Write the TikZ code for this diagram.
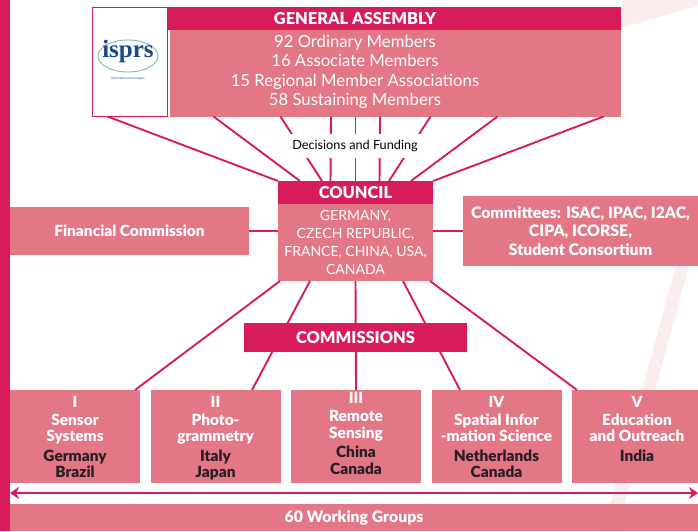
\documentclass[tikz,border=0pt]{standalone}
\usepackage{fontspec}
\setmainfont{Lato}[BoldFont={Lato Black}]
\newfontfamily\logofont{Liberation Serif}
\usetikzlibrary{arrows,arrows.meta,positioning}

\definecolor{isprsred}{RGB}{216,27,90}
\definecolor{isprspink}{RGB}{227,119,133}
\definecolor{isprsdark}{RGB}{38,30,34}
\definecolor{isprsblue}{RGB}{28,72,140}
\definecolor{isprsteal}{RGB}{120,190,180}
\definecolor{isprsfaint}{RGB}{251,236,238}
\newcommand{\ctry}[1]{\textcolor{isprsdark}{#1}}
\newcommand{\fs}[2]{\fontsize{#1}{#2}\selectfont}

\begin{document}
\begin{tikzpicture}[x=1pt,y=-1pt,>={Stealth[length=9pt,width=12pt]},node distance=140.5pt,
    semithick]
    \tikzset{
      redbox/.style={fill=isprsred,text=white,inner sep=0pt,outer sep=0pt,font=\bfseries\fs{16.4}{18}},
      pinkbox/.style={fill=isprspink,text=white,inner sep=0pt,outer sep=0pt},
      link/.style={draw=isprsred,line width=1.9pt},
      commbox/.style={pinkbox,minimum width=130pt,minimum height=93pt},
      commtext/.style={text=white,align=center,inner sep=0pt,font=\bfseries\fs{15.4}{16.5}}
    }
    \useasboundingbox (0,0) rectangle (698,531);

    % faint background marks
    \fill[isprsfaint] (622,0) -- (698,0) -- (698,6) -- (622,28) -- cycle;
    \fill[isprsfaint] (677,262) -- (690,262) -- (617,531) -- (603,531) -- cycle;

    \node[fill=isprsred,minimum width=10pt,minimum height=531pt,inner sep=0pt,outer sep=0pt] (sidebar) at (5,265.5) {};

    % general assembly
    \node[redbox,minimum width=453pt,minimum height=23pt] (gahead) at (394.5,18.5) {};
    \node[pinkbox,minimum width=451pt,minimum height=87pt] (gabody) at (395.5,73.5) {};
    \node[text=white,font=\bfseries\fs{16.4}{18}] (gatitle) at (355,18.5) {GENERAL ASSEMBLY};
    \node[text=white,align=center,font=\fs{16.7}{19.5}] (gamembers) at (355,72)
        {92 Ordinary Members\\16 Associate Members\\15 Regional Member Associations\\58 Sustaining Members};
    \node[draw=isprsred,line width=1.5pt,fill=white,minimum width=75pt,minimum height=109pt,
        inner sep=0pt,outer sep=0pt] (logo) at (130,62) {};
    \draw[isprsteal,line width=0.9pt] (128,56) ellipse (30 and 16);
    \node[text=isprsblue,font=\logofont\bfseries\fs{25}{25}] (isprs) at (128,51) {isprs};
    \node[text=isprsblue,font=\fs{3}{3}] (tagline) at (128,79) {Information from Imagery};

    % council and its neighbours
    \node[redbox,minimum width=155pt,minimum height=23pt] (council) at (355.5,192.5) {COUNCIL};
    \node[pinkbox,minimum width=155pt,minimum height=77pt,align=center,font=\fs{14}{17.7}]
        (councilbody) [below=0pt of council] {GERMANY,\\CZECH REPUBLIC,\\FRANCE, CHINA, USA,\\CANADA};
    \node[pinkbox,minimum width=239pt,minimum height=48pt,font=\bfseries\fs{15.4}{16}]
        (fincomm) at (129.5,231) {Financial Commission};
    \node[pinkbox,minimum width=235pt,minimum height=70pt,align=center,font=\bfseries\fs{15.8}{18.5}]
        (committees) at (580.5,231) {Committees: ISAC, IPAC, I2AC,\\CIPA, ICORSE,\\Student Consortium};

    % commissions
    \node[commbox] (cI)  at (75,436.5) {};
    \node[commbox] (cII) [right of=cI]  {};
    \node[commbox] (cIII)[right of=cII] {};
    \node[commbox] (cIV) [right of=cIII]{};
    \node[commbox] (cV)  [right of=cIV] {};
    \node[commtext,below=5.5pt of cI.north] (tI) {I\\[1.5pt]Sensor\\Systems\\[3pt]\ctry{Germany}\\\ctry{Brazil}};
    \node[commtext,below=5.5pt of cII.north] (tII) {II\\[1.5pt]Photo-\\grammetry\\[3pt]\ctry{Italy}\\\ctry{Japan}};
    \node[commtext,below=2pt of cIII.north] (tIII) {III\\[1.5pt]Remote\\Sensing\\[3pt]\ctry{China}\\\ctry{Canada}};
    \node[commtext,below=5.5pt of cIV.north] (tIV) {IV\\[1.5pt]Spatial Infor\\-mation Science\\[3pt]\ctry{Netherlands}\\\ctry{Canada}};
    \node[commtext,below=5.5pt of cV.north] (tV) {V\\[1.5pt]Education\\and Outreach\\[3pt]\ctry{India}};

    \node[pinkbox,minimum width=688pt,minimum height=27pt,font=\bfseries\fs{15.8}{16.5}]
        (workgroups) at (354,517.5) {60 Working Groups};

    % decisions and funding
    \foreach \s/\e in {15/0, 121/22, 188/44, 238.5/52.5, 263/77.5, 287.5/101.5, 338/111, 405/133, 511/155}
        \draw[link] ([xshift=\s]logo.south west) -- ([xshift=\e]council.north west);
    \node[fill=white,minimum width=132pt,minimum height=24pt,inner sep=0pt,font=\fs{12.7}{12.7}]
        (decisions) at (355,146) {Decisions and Funding};

    \draw[link] ([xshift=2]councilbody.south west) -- ([xshift=60]cI.north);
    \draw[link] ([xshift=32]councilbody.south west) -- ([xshift=36.5]cII.north);
    \draw[link] (councilbody.south) -- (cIII.north);
    \draw[link] ([xshift=-30]councilbody.south east) -- ([xshift=-36.5]cIV.north);
    \draw[link] ([xshift=-3]councilbody.south east) -- ([xshift=-60]cV.north);
    \node[redbox,minimum width=223pt,minimum height=29pt]
        (commissions) at (355.5,337.5) {COMMISSIONS};

    \draw[link] (fincomm.east) -- (fincomm.east -| councilbody.west);
    \draw[link] (committees.west -| councilbody.east) -- (committees.west);
    \draw[<->,draw=isprsred,fill=isprsred,line width=2pt] ([yshift=11pt]workgroups.north west)
        -- ([yshift=11pt]workgroups.north east);
\end{tikzpicture}
\end{document}
